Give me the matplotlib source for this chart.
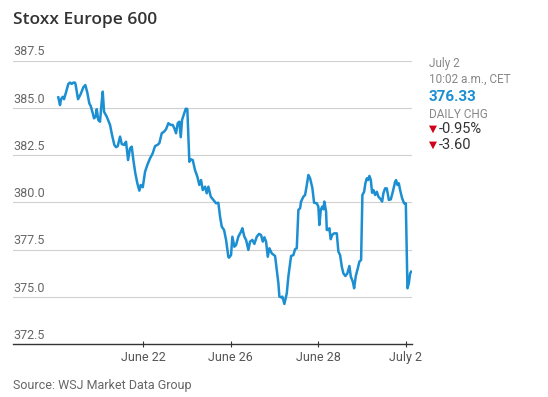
import matplotlib
matplotlib.use('Agg')
import matplotlib.pyplot as plt
import matplotlib.transforms as mtransforms

# trading-day index: 0 = June 20 open, 1 = June 21, ... 8 = July 2
days = [0.066, 0.105, 0.128, 0.167, 0.196, 0.235, 0.295, 0.333, 0.372, 0.409,
        0.447, 0.463, 0.516, 0.578, 0.637, 0.683, 0.728, 0.774, 0.806, 0.852,
        0.881, 0.920, 0.943, 0.979, 1.018, 1.057, 1.080, 1.110, 1.171, 1.247,
        1.292, 1.345, 1.384, 1.423, 1.475, 1.514, 1.567, 1.612, 1.658, 1.703,
        1.742, 1.779, 1.824, 1.870, 1.916, 1.948, 1.994, 2.046, 2.098, 2.160,
        2.221, 2.274, 2.327, 2.372, 2.427, 2.479, 2.525, 2.578, 2.632, 2.678,
        2.715, 2.753, 2.792, 2.829, 2.861, 2.890, 2.936, 2.975, 3.011, 3.057,
        3.089, 3.135, 3.186, 3.240, 3.285, 3.324, 3.363, 3.416, 3.454, 3.491,
        3.546, 3.605, 3.667, 3.719, 3.758, 3.797, 3.849, 3.895, 3.947, 3.963,
        4.009, 4.039, 4.085, 4.123, 4.175, 4.237, 4.267, 4.313, 4.352, 4.404,
        4.443, 4.495, 4.541, 4.596, 4.648, 4.694, 4.733, 4.770, 4.808, 4.847,
        4.884, 4.938, 5.014, 5.053, 5.089, 5.112, 5.150, 5.180, 5.226, 5.281,
        5.317, 5.356, 5.379, 5.432, 5.470, 5.509, 5.546, 5.585, 5.607, 5.660,
        5.699, 5.738, 5.774, 5.813, 5.865, 5.904, 5.966, 6.002, 6.025, 6.057,
        6.087, 6.116, 6.139, 6.178, 6.194, 6.231, 6.253, 6.285, 6.315, 6.361,
        6.422, 6.459, 6.498, 6.537, 6.573, 6.619, 6.664, 6.710, 6.742, 6.788,
        6.818, 6.856, 6.902, 6.938, 6.977, 7.007, 7.046, 7.075, 7.107, 7.137,
        7.167, 7.199, 7.228, 7.258, 7.297, 7.336, 7.372, 7.427, 7.457, 7.486,
        7.525, 7.564, 7.610, 7.656, 7.701, 7.754, 7.776, 7.806, 7.838, 7.868,
        7.913, 7.959, 7.998, 8.035, 8.067, 8.096, 8.119]
values = [385.56, 385.15, 385.46, 385.59, 385.46, 385.77, 386.27, 386.34, 386.27, 386.34,
          386.34, 386.21, 385.46, 385.74, 386.09, 386.21, 385.81, 385.24, 385.10, 384.72,
          384.45, 384.54, 384.93, 384.36, 384.27, 385.33, 385.86, 384.80, 384.54, 384.10,
          383.57, 383.04, 382.92, 382.98, 383.48, 383.09, 383.04, 383.21, 382.24, 382.86,
          382.95, 382.24, 381.54, 381.01, 380.62, 380.92, 380.80, 381.62, 381.98, 382.33,
          382.60, 382.98, 383.04, 383.13, 383.66, 383.74, 383.87, 384.19, 384.10, 384.10,
          383.92, 383.66, 384.19, 384.27, 383.45, 384.36, 384.68, 384.96, 384.94, 382.15,
          382.28, 382.24, 381.71, 381.36, 380.92, 381.18, 380.65, 380.83, 380.48, 380.83,
          380.30, 380.13, 379.95, 379.98, 379.24, 378.71, 378.54, 378.01, 377.12, 377.07,
          377.21, 378.18, 377.65, 377.74, 378.18, 378.45, 378.63, 378.18, 378.01, 377.48,
          377.92, 378.01, 377.80, 378.18, 378.33, 378.27, 377.92, 378.15, 377.92, 377.12,
          377.57, 377.30, 377.16, 376.42, 375.72, 375.01, 374.97, 375.01, 374.62, 375.19,
          376.07, 376.77, 377.16, 377.21, 377.52, 377.57, 379.60, 379.69, 380.04, 380.30,
          380.39, 380.92, 381.45, 381.27, 380.76, 379.98, 379.95, 379.77, 378.80, 379.60,
          379.77, 379.63, 380.04, 379.51, 378.54, 378.54, 378.63, 378.05, 378.27, 378.36,
          378.36, 377.39, 377.21, 376.59, 376.24, 376.10, 376.24, 376.63, 376.07, 375.80,
          375.45, 376.10, 376.51, 376.86, 376.95, 380.39, 380.56, 381.01, 381.27, 381.18,
          381.40, 381.18, 380.51, 380.65, 380.39, 380.56, 380.30, 380.16, 380.04, 380.48,
          380.74, 380.74, 380.13, 380.16, 380.56, 381.09, 381.18, 380.92, 381.01, 380.65,
          380.22, 379.95, 379.95, 375.45, 375.72, 376.24, 376.33]

tick_days = [2, 4, 6, 8]
tick_labels = ['June 22', 'June 26', 'June 28', 'July 2']
y_ticks = [372.5, 375.0, 377.5, 380.0, 382.5, 385.0, 387.5]

blue = '#1b8fd2'
narrow = ['Roboto', 'DejaVu Sans']

fig = plt.figure(figsize=(5.48, 3.97), dpi=100)
ax = fig.add_axes([13 / 548, 53 / 397, 399 / 548, 283.3 / 397])

for y in y_ticks[1:]:
    ax.axhline(y, color='#d0d0d0', lw=0.8, zorder=1)
ax.plot(days, values, color=blue, lw=1.8, zorder=3, solid_joinstyle='round')

ax.set_xlim(-0.968, 8.139)
ax.set_ylim(372.5, 387.5)

for s in ['top', 'right', 'left']:
    ax.spines[s].set_visible(False)
ax.spines['bottom'].set_color('#333333')
ax.spines['bottom'].set_linewidth(1.0)

ax.set_xticks(tick_days)
ax.set_xticklabels(tick_labels, fontsize=9, color='#555555', family=narrow)
ax.tick_params(axis='x', direction='inout', length=4, width=0.8, color='#333333', pad=3)
ax.set_yticks([])

trans = mtransforms.blended_transform_factory(ax.transAxes, ax.transData)
for y in y_ticks:
    ax.text(0, y + 0.12, '%.1f' % y, transform=trans, ha='left', va='bottom',
            fontsize=9, color='#666666', family=narrow)

fig.text(13 / 548, 1 - 20 / 397, 'Stoxx Europe 600', fontsize=12.5, fontweight='semibold',
         color='#333333', family=['Open Sans', 'DejaVu Sans'], va='center', ha='left')

rx = 429 / 548
fig.text(rx, 1 - 64 / 397, 'July 2', fontsize=8.5, color='#888888', family=narrow, va='center')
fig.text(rx, 1 - 79 / 397, '10:02 a.m., CET', fontsize=8.5, color='#888888', family=narrow, va='center')
fig.text(rx, 1 - 97 / 397, '376.33', fontsize=11, color=blue, fontweight='bold',
         family=['Roboto', 'DejaVu Sans'], va='center')
fig.text(rx, 1 - 114 / 397, 'DAILY CHG', fontsize=8.5, color='#888888', family=narrow, va='center')
for yy, txt in [(129, '-0.95%'), (145, '-3.60')]:
    fig.text(rx, 1 - yy / 397, '\u25bc', fontsize=7.5, color='#d0021b', family='DejaVu Sans', va='center')
    fig.text(rx + 10 / 548, 1 - yy / 397, txt, fontsize=10.5, color='#333333', family=narrow, va='center')

fig.text(13 / 548, 1 - 386 / 397, 'Source: WSJ Market Data Group', fontsize=9, color='#666666',
         family=narrow, va='center', ha='left')

fig.savefig('out.png', dpi=100)
